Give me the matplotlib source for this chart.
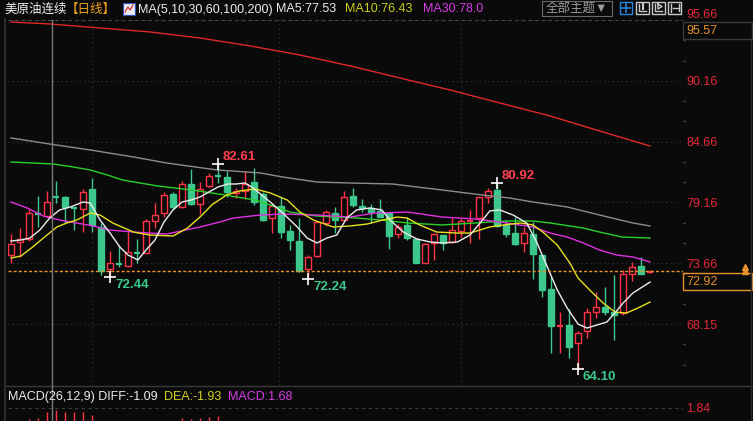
import matplotlib
matplotlib.use('Agg')
import matplotlib.pyplot as plt
from matplotlib.patches import Rectangle

# daily candles, oldest -> newest
opens = [74.40, 75.58, 75.85, 78.20, 77.93, 79.74, 79.65, 78.66, 78.57, 80.38,
         76.94, 73.13, 73.63, 73.40, 74.63, 74.58, 77.48, 78.20, 79.92, 78.75,
         80.83, 79.02, 80.65, 81.56, 81.46, 80.02, 80.20, 81.01, 79.92, 77.75,
         78.84, 76.57, 75.67, 73.13, 74.31, 77.30, 78.20, 77.57, 79.74, 78.84,
         78.66, 78.39, 78.20, 76.30, 77.12, 75.85, 73.67, 75.49, 76.21, 75.58,
         76.57, 77.39, 77.75, 79.65, 80.29, 77.12, 76.39, 75.49, 76.30, 74.40,
         71.32, 67.97, 68.06, 66.43, 67.52, 69.24, 69.69, 69.24, 69.15, 72.68,
         73.40, 72.86]
highs = [76.30, 76.84, 78.57, 79.74, 80.20, 81.10, 79.74, 78.75, 80.38, 81.37,
         77.30, 74.76, 75.30, 76.48, 75.85, 77.66, 79.11, 80.11, 80.11, 81.10,
         82.19, 81.01, 81.83, 82.61, 82.01, 80.47, 82.01, 82.28, 80.11, 79.11,
         79.65, 77.12, 77.75, 74.40, 77.48, 78.48, 78.75, 80.20, 80.47, 79.47,
         79.02, 79.47, 78.29, 77.21, 77.84, 75.85, 75.49, 76.39, 76.21, 77.75,
         77.75, 78.48, 79.65, 80.47, 80.92, 77.57, 77.84, 76.94, 77.39, 74.40,
         72.41, 69.24, 69.51, 67.52, 69.60, 71.05, 71.50, 72.59, 73.04, 73.77,
         74.22, 73.00]
lows = [73.67, 74.22, 75.67, 76.94, 77.84, 79.11, 77.30, 76.66, 76.48, 76.48,
        72.59, 72.44, 73.31, 73.40, 73.67, 74.58, 76.84, 77.84, 78.57, 78.66,
        78.93, 78.11, 80.56, 80.92, 79.65, 79.56, 79.47, 78.93, 77.48, 76.39,
        75.94, 74.85, 72.86, 72.24, 74.22, 77.03, 76.39, 77.57, 78.75, 78.29,
        77.30, 77.84, 74.94, 75.94, 75.76, 73.67, 73.67, 73.95, 74.85, 75.49,
        76.03, 75.49, 75.85, 79.11, 76.94, 76.03, 75.30, 74.67, 72.22, 70.60,
        65.52, 65.52, 65.07, 64.10, 66.88, 68.69, 68.96, 66.70, 68.96, 72.04,
        72.68, 72.80]
closes = [75.40, 75.85, 78.20, 78.11, 79.20, 79.65, 78.75, 78.57, 80.11, 77.12,
          72.95, 73.68, 73.55, 74.67, 74.55, 77.48, 78.02, 79.83, 78.75, 80.83,
          79.02, 80.38, 81.56, 81.47, 80.11, 80.20, 80.83, 79.20, 77.57, 78.84,
          76.48, 75.76, 72.95, 74.22, 77.39, 78.29, 77.57, 79.65, 78.93, 78.66,
          78.29, 77.84, 76.12, 76.94, 75.94, 73.67, 75.40, 76.30, 75.49, 76.66,
          77.48, 77.48, 79.65, 80.20, 77.03, 76.30, 75.40, 76.39, 74.49, 71.23,
          67.97, 68.06, 66.07, 67.33, 69.24, 69.69, 69.24, 68.96, 72.68, 73.31,
          72.68, 72.92]

# moving averages, read at candle positions
ma5_x = [0, 1.1, 2.1, 3.2, 4.3, 5.4, 6.6, 8, 8.8, 9.9, 11, 12.1, 13, 14.1, 15, 16, 17, 18, 19, 20,
         21, 22, 23, 24.1, 25, 26, 26.9, 28.8, 30.2, 31.8, 32.9, 34, 35.1, 36.2, 37.3, 38.4, 39.9,
         41.2, 42.1, 43.6, 45.1, 46.6, 48, 49.6, 51, 52.4, 53.2, 54.3, 55.8, 57.3, 58.4, 59.6, 60.7,
         61.8, 63, 64, 65.1, 66.2, 67.1, 68, 69.1, 71]
ma5_y = [75.67, 75.76, 75.94, 76.66, 77.75, 78.48, 78.75, 79.20, 79.11, 77.57, 76.39, 75.12, 74.40,
         73.95, 74.85, 75.76, 77.39, 78.48, 79.20, 79.38, 79.65, 80.11, 80.56, 80.83, 80.83, 80.92,
         80.47, 79.20, 78.20, 76.94, 75.94, 75.49, 75.94, 76.21, 77.75, 78.48, 78.66, 78.48, 77.57,
         76.48, 75.85, 75.58, 75.49, 75.58, 76.21, 77.57, 78.39, 78.48, 78.02, 77.30, 75.58, 73.31,
         71.23, 69.60, 68.15, 67.79, 68.06, 68.33, 69.15, 70.05, 70.96, 71.95]
ma10_x = [0, 1.1, 2.4, 4, 5.1, 6.2, 7.3, 8.8, 9.9, 11.3, 13.6, 15.4, 18, 19.6, 21, 22.4, 24, 25.4,
          27.1, 28.8, 30.7, 32.1, 33.6, 35.8, 37.7, 39.6, 41.3, 42.9, 44, 45.4, 47.3, 49.6, 51,
          53.2, 54.7, 56.6, 58, 59.1, 60.7, 62.1, 63, 64.3, 65.8, 67.1, 68.4, 69.9, 71]
ma10_y = [74.13, 74.31, 75.12, 76.21, 76.94, 77.30, 77.57, 78.20, 78.02, 77.30, 76.48, 76.21, 76.12,
          76.84, 77.84, 79.00, 79.85, 80.20, 80.38, 80.02, 79.38, 78.29, 77.57, 76.94, 77.03, 77.21,
          77.57, 77.84, 77.75, 77.12, 76.48, 76.39, 76.39, 76.94, 77.12, 77.30, 77.12, 76.48, 75.30,
          73.67, 72.32, 71.23, 70.05, 69.24, 69.15, 69.69, 70.14]
ma30_x = [0, 1.8, 3.6, 5.4, 7.3, 9.1, 11, 13.6, 17.3, 21, 23.2, 24.7, 27.7, 30.2, 34, 37.7, 40.4,
          44.1, 47.9, 51.6, 54.3, 58, 59.9, 61.8, 63.6, 65.4, 67.3, 69.1, 71]
ma30_y = [79.20, 78.66, 77.93, 77.57, 77.30, 77.03, 76.66, 76.48, 76.30, 76.94, 77.39, 77.75, 78.02,
          78.11, 78.02, 77.84, 78.20, 78.29, 77.84, 77.66, 77.39, 76.94, 76.39, 76.03, 75.49, 74.85,
          74.40, 74.22, 73.77]
ma60_x = [0, 2.4, 4.7, 6.9, 8.8, 10.7, 12.4, 16.3, 20.1, 23.8, 27.1, 28.8, 31, 34, 36.2, 38.4, 41,
          44.1, 47.9, 51.6, 54.9, 58, 59.9, 63.6, 65.4, 67.9, 71]
ma60_y = [82.82, 82.73, 82.64, 82.37, 82.10, 81.65, 81.19, 80.65, 80.29, 79.83, 79.38, 78.93, 78.29,
          77.93, 77.84, 77.75, 77.57, 77.30, 77.12, 77.30, 77.48, 77.48, 77.30, 76.84, 76.48, 76.03,
          75.94]
ma100_x = [0, 4.3, 8.8, 13.6, 17.3, 22.9, 27.7, 30.2, 34, 37.7, 42.4, 45.1, 48.8, 52.4, 55.4, 58,
           61.8, 65.4, 69.1, 71]
ma100_y = [85.00, 84.45, 83.91, 83.28, 82.73, 82.10, 81.83, 81.46, 81.01, 80.92, 80.83, 80.56, 80.20,
           79.83, 79.56, 79.20, 78.75, 78.02, 77.30, 77.03]
ma200_x = [0, 4.3, 9.9, 15.4, 21, 26.6, 32.1, 37.7, 43.2, 48.8, 54.3, 59.9, 65.4, 71]
ma200_y = [95.50, 95.32, 94.96, 94.60, 94.05, 93.33, 92.51, 91.52, 90.43, 89.34, 88.17, 86.99, 85.63,
           84.27]

price_levels = [68.15, 73.66, 79.16, 84.66, 90.16]
top_level = 95.66
mark_high = [23, 54]
mark_low = [11, 33, 63]

# MACD histogram (visible tops only)
macd_x = [2, 3, 4, 5, 6, 7, 8, 9, 19, 20, 21, 22, 23]
macd_v = [1.29, 1.34, 1.64, 1.74, 1.64, 1.64, 1.64, 1.49, 1.34, 1.29, 1.34, 1.39, 1.44]

W, H = 753, 421
BG = '#0a0a0a'
UP = '#ff3348'
DOWN = '#3cc88c'
AXRED = '#e8283c'
ORANGE = '#e8922c'

plt.rcParams['font.family'] = ['Liberation Sans', 'Noto Sans CJK SC', 'DejaVu Sans']

fig = plt.figure(figsize=(W / 100, H / 100), dpi=100, facecolor=BG)


def px_box(x0, y0, x1, y1):
    return [x0 / W, 1 - y1 / H, (x1 - x0) / W, (y1 - y0) / H]


# main price panel
ax = fig.add_axes(px_box(8, 20, 683, 385), facecolor=BG)
ax.set_xlim(-0.333, 74.667)
ax.set_ylim(62.63, 95.68)

for i, (o, h, l, c) in enumerate(zip(opens, highs, lows, closes)):
    up = c >= o
    col = UP if up else DOWN
    lo, hi = min(o, c), max(o, c)
    if hi - lo < 0.12:
        ax.vlines(i, l, h, color=col, lw=1, zorder=2)
        ax.hlines((o + c) / 2, i - 0.38, i + 0.38, color=col, lw=1.6, zorder=2)
    else:
        ax.vlines(i, hi, h, color=col, lw=1, zorder=2)
        ax.vlines(i, l, lo, color=col, lw=1, zorder=2)
        ax.add_patch(Rectangle((i - 0.38, lo), 0.76, hi - lo, facecolor=BG if up else col,
                               edgecolor=col, lw=1, zorder=2))

ax.plot(ma200_x, ma200_y, color='#e02828', lw=1, zorder=3)
ax.plot(ma100_x, ma100_y, color='#8c8c8c', lw=1, zorder=3)
ax.plot(ma60_x, ma60_y, color='#28d028', lw=1, zorder=3)
ax.plot(ma30_x, ma30_y, color='#e030e0', lw=1, zorder=3)
ax.plot(ma10_x, ma10_y, color='#e8e020', lw=1, zorder=3)
ax.plot(ma5_x, ma5_y, color='#ececec', lw=1, zorder=3)

for i in mark_high:
    ax.plot(i, highs[i], marker='+', color='white', ms=8, mew=1.2, zorder=5)
    ax.annotate(f'{highs[i]:.2f}', (i, highs[i]), xytext=(5, 7), textcoords='offset pixels',
                color='#ff4050', fontsize=9.5, fontweight='bold', va='center', ha='left')
for i in mark_low:
    ax.plot(i, lows[i], marker='+', color='white', ms=8, mew=1.2, zorder=5)
    ax.annotate(f'{lows[i]:.2f}', (i, lows[i]), xytext=(5, -8), textcoords='offset pixels',
                color=DOWN, fontsize=9.5, fontweight='bold', va='center', ha='left')

last = closes[-1]
ax.axhline(last, color=ORANGE, lw=1, ls=(0, (2.2, 1.5)), zorder=4)

ax.yaxis.tick_right()
ax.set_yticks(price_levels + [top_level])
ax.set_yticklabels([f'{v:.2f}' for v in price_levels] + [''])
ax.tick_params(axis='y', length=0, pad=2.5, labelsize=9, labelcolor=AXRED)
minor = [v + k * 5.5 / 3 for v in price_levels for k in (1, 2)] + [68.15 - 5.5 / 3, 68.15 - 11 / 3]
ax.set_yticks(minor, minor=True)
ax.tick_params(axis='y', which='minor', length=1.5, width=1, color='#555555')
ax.set_xticks([])
ax.grid(axis='y', color='#383838', ls=(0, (1, 3)), lw=0.8)
for gx in [9, 29.8, 50]:
    ax.axvline(gx, color='#383838', ls=(0, (1, 3)), lw=0.8, zorder=0)
for s in ax.spines.values():
    s.set_visible(False)

# MACD panel
ax2 = fig.add_axes(px_box(8, 387, 683, 421), facecolor=BG)
ax2.set_xlim(-0.333, 74.667)
ax2.set_ylim(1.19, 2.89)
ax2.vlines(macd_x, 0, macd_v, color=UP, lw=1)
ax2.axhline(1.84, color='#3c3c3c', ls=(0, (3, 3)), lw=0.8)
ax2.yaxis.tick_right()
ax2.set_yticks([1.84])
ax2.set_yticklabels(['1.84'])
ax2.tick_params(axis='y', length=0, pad=2.5, labelsize=9, labelcolor=AXRED)
ax2.set_xticks([])
for s in ax2.spines.values():
    s.set_visible(False)

# overlay in pixel coordinates for the terminal chrome
ov = fig.add_axes([0, 0, 1, 1], zorder=10)
ov.set_xlim(0, W)
ov.set_ylim(H, 0)
ov.axis('off')
ov.patch.set_alpha(0)

# top price label, partly hidden under the title bar
ov.text(686, 15.5, f'{top_level:.2f}', color=AXRED, fontsize=9, va='center', ha='left')
ov.add_patch(Rectangle((683, 0), 70, 12, facecolor=BG, edgecolor='none'))

ov.plot([8, 683], [19.5, 19.5], color='#4a4a4a', lw=0.8, ls=(0, (3, 3)))
ov.plot([5.5, 5.5], [19, 421], color='#2c2c2c', lw=1.5)
ov.plot([6, 753], [386, 386], color='#3a3a3a', lw=1)
ov.plot([751, 751], [40, 421], color='#2a2a2a', lw=1)
ov.plot([52.5, 52.5], [20, 421], color='#7a7a7a', lw=1)

# title bar
ty = 9.5
ov.text(4, ty, '美原油连续', color='#f0f0f0', fontsize=9, va='center', ha='left')
ov.text(66, ty, '【日线】', color='#f0a020', fontsize=9, va='center', ha='left')
ov.add_patch(Rectangle((123, 3), 12, 12, facecolor='#e8e8f0', edgecolor='#3050c0', lw=0.8))
ov.plot([125, 128, 130, 133], [12, 7, 10, 5], color='#e02020', lw=0.8)
ov.text(138, ty, 'MA(5,10,30,60,100,200)', color='#ececec', fontsize=9, va='center', ha='left')
ov.text(276, ty, 'MA5:77.53', color='#ececec', fontsize=9, va='center', ha='left')
ov.text(345, ty, 'MA10:76.43', color='#c8d018', fontsize=9, va='center', ha='left')
ov.text(423, ty, 'MA30:78.0', color='#d83ce8', fontsize=9, va='center', ha='left')

ov.add_patch(Rectangle((542, 0.5), 70, 15, facecolor='none', edgecolor='#6a6a6a', lw=0.8))
ov.text(577, 8.5, '全部主题▼', color='#9a9a9a', fontsize=9, va='center', ha='center')

ov.add_patch(Rectangle((620, 1.5), 12, 12, facecolor='none', edgecolor='#2a86e0', lw=1))
ov.plot([622, 625], [7.5, 7.5], color='#2a86e0', lw=1.2)
ov.plot([627, 630], [7.5, 7.5], color='#2a86e0', lw=1.2)
ov.plot([626, 626], [3.5, 6.5], color='#2a86e0', lw=1.2)
ov.plot([626, 626], [8.5, 11.5], color='#2a86e0', lw=1.2)
for x0 in [636, 652, 668]:
    ov.add_patch(Rectangle((x0, 1.5), 13, 12, facecolor='none', edgecolor='#c8c8c8', lw=1))
ov.plot([639, 639, 646], [3.5, 11, 11], color='#c8c8c8', lw=1)
ov.plot([643, 643], [4, 9], color='#c8c8c8', lw=1.5)
ov.plot([655, 655, 662], [3.5, 11, 11], color='#c8c8c8', lw=1)
ov.plot([658, 658, 662, 658], [4, 9, 6.5, 4], color='#c8c8c8', lw=1)
ov.plot([671, 671], [3.5, 11.5], color='#c8c8c8', lw=1)
ov.plot([673, 679], [7.5, 7.5], color='#c8c8c8', lw=1)
ov.plot([679, 679], [4, 11], color='#c8c8c8', lw=1)

# right-side price boxes
ov.add_patch(Rectangle((683, 22), 69, 17, facecolor=BG, edgecolor='#3a3a3a', lw=1))
ov.text(686, 30.5, '95.57', color=ORANGE, fontsize=9, va='center', ha='left')
ov.plot([683, 686], [273, 273], color=ORANGE, lw=1)
ov.add_patch(Rectangle((683, 273), 69, 17, facecolor=BG, edgecolor=ORANGE, lw=1))
ov.text(686, 282, f'{last:.2f}', color=ORANGE, fontsize=9, va='center', ha='left')
ov.plot([745, 745], [266.5, 270.5], color=ORANGE, lw=0, marker='^', ms=4)

# MACD header
ov.text(8, 397, 'MACD(26,12,9) DIFF:-1.09', color='#ececec', fontsize=9, va='center', ha='left')
ov.text(164, 397, 'DEA:-1.93', color='#d8d020', fontsize=9, va='center', ha='left')
ov.text(228, 397, 'MACD:1.68', color='#d83ce8', fontsize=9, va='center', ha='left')

fig.savefig('out.png', dpi=100, facecolor=BG)
